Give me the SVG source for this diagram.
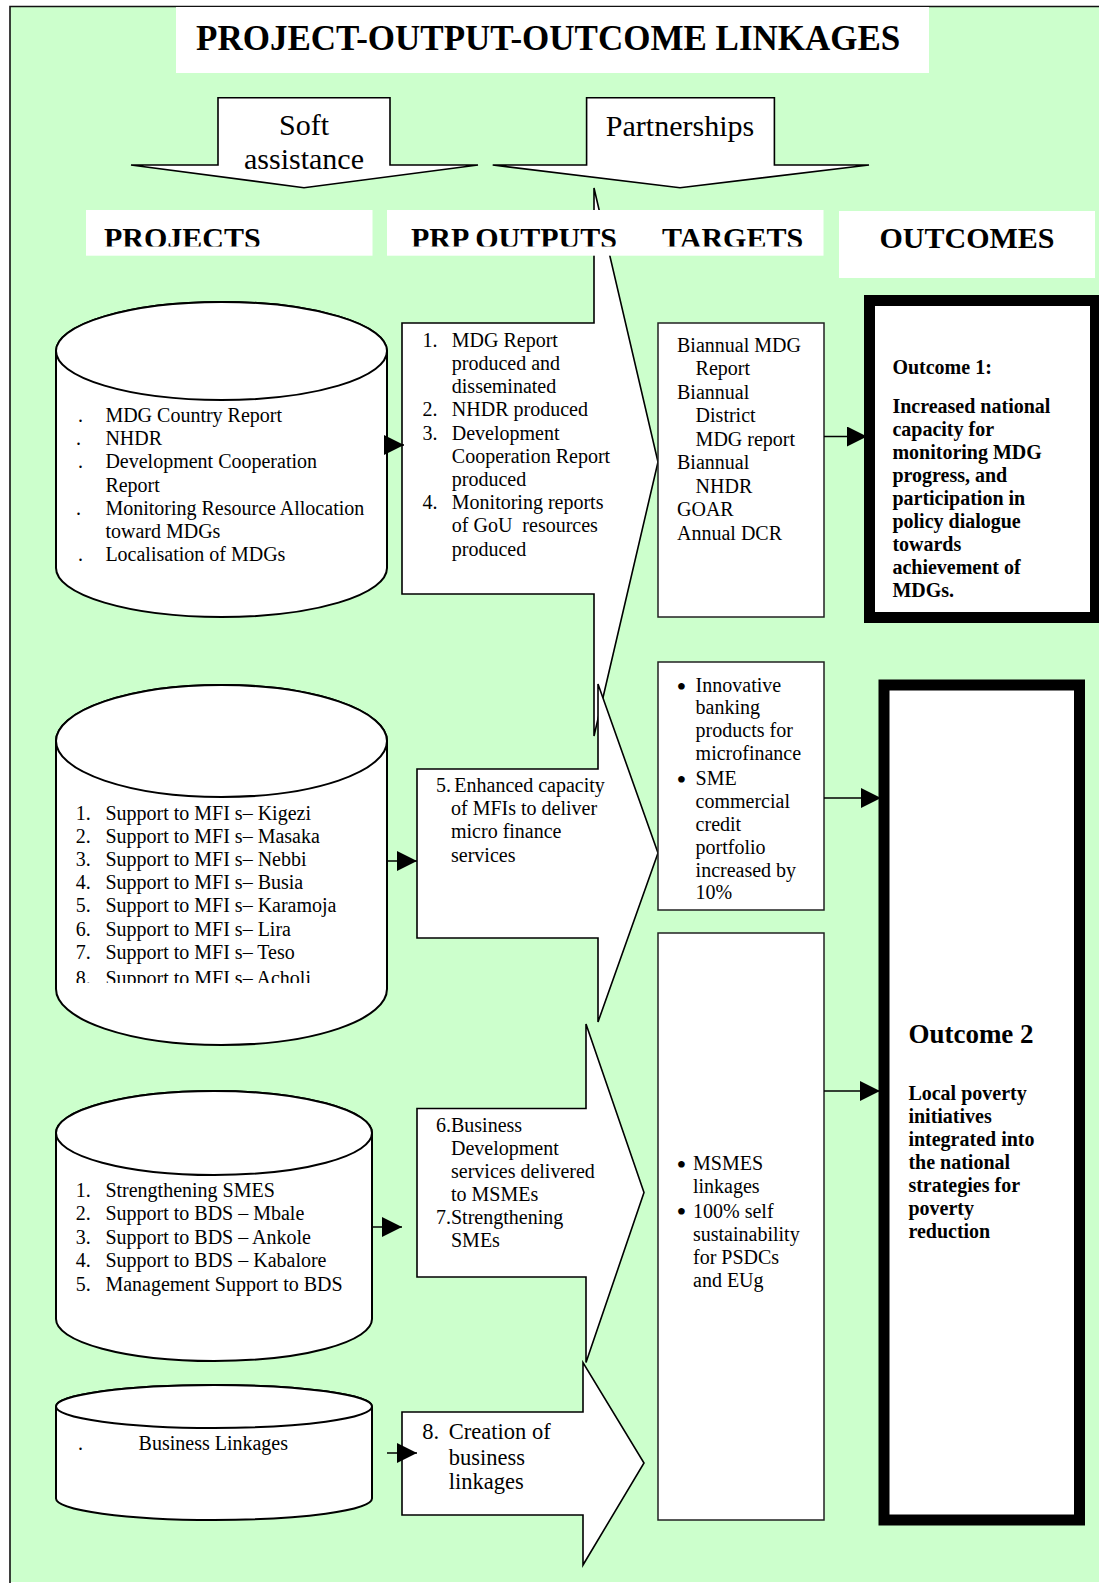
<svg xmlns="http://www.w3.org/2000/svg" width="1099" height="1583" viewBox="0 0 1099 1583">
<style>
.t{font-family:"Liberation Serif","Times New Roman",serif;font-size:20px;fill:#000}
.b{font-weight:bold}
.h{font-size:30px;font-weight:bold}
.bul{font-size:28px}
.box{fill:#fff;stroke:#000;stroke-width:1.5}
.tbox{fill:#fff;stroke:#222;stroke-width:1.5}
.cyl{fill:#fff;stroke:#000;stroke-width:2}
.out{fill:#fff;stroke:#000;stroke-width:1.6;stroke-linejoin:miter}
.hdr{fill:#fff}
.thick{fill:#fff;stroke:#000;stroke-width:11}
.conn{stroke:#000;stroke-width:1.5;fill:none;marker-end:url(#ah)}
</style>
<defs>
<marker id="ah" viewBox="0 0 20 20" refX="20" refY="10" markerWidth="20" markerHeight="20" markerUnits="userSpaceOnUse" orient="auto"><path d="M0,0 L20,10 L0,20 Z" fill="#000"/></marker>
<clipPath id="hclip"><rect x="80" y="200" width="760" height="46.5"/></clipPath>
<clipPath id="c2clip"><rect x="50" y="680" width="345" height="303"/></clipPath>
</defs>
<rect x="0" y="0" width="1099" height="1583" fill="#fff"/>
<rect x="10" y="7" width="1089" height="1575" fill="#CCFFCC"/>
<path d="M10,1583 V6.5 H1099" fill="none" stroke="#111" stroke-width="1.6"/>

<g id="title">
<rect class="hdr" x="176" y="7" width="753" height="66"/>
<text class="t b" x="196" y="50" style="font-size:35px">PROJECT-OUTPUT-OUTCOME LINKAGES</text>
</g>

<g id="soft-assistance">
<polygon class="out" points="218,97.7 390,97.7 390,165 478,165 304,187.7 131,165 218,165"/>
<text class="t" x="304" y="135" text-anchor="middle" style="font-size:30px">Soft</text>
<text class="t" x="304" y="169" text-anchor="middle" style="font-size:30px">assistance</text>
</g>

<g id="partnerships">
<polygon class="out" points="586.6,97.7 774.4,97.7 774.4,165 869,165 680,187.7 492.7,165 586.6,165"/>
<text class="t" x="680" y="136" text-anchor="middle" style="font-size:30px">Partnerships</text>
</g>

<g id="output1">
<polygon class="out" points="402,323 594,323 594,188 658,462 594,736 594,594 402,594"/>
<text class="t" x="422.5" y="346.7">1.</text><text class="t" x="451.8" y="346.7">MDG Report</text>
<text class="t" x="451.8" y="369.9">produced and</text>
<text class="t" x="451.8" y="393.1">disseminated</text>
<text class="t" x="422.5" y="416.3">2.</text><text class="t" x="451.8" y="416.3">NHDR produced</text>
<text class="t" x="422.5" y="439.5">3.</text><text class="t" x="451.8" y="439.5">Development</text>
<text class="t" x="451.8" y="462.7">Cooperation Report</text>
<text class="t" x="451.8" y="485.9">produced</text>
<text class="t" x="422.5" y="509.1">4.</text><text class="t" x="451.8" y="509.1" xml:space="preserve">Monitoring reports</text>
<text class="t" x="451.8" y="532.3" xml:space="preserve">of GoU  resources</text>
<text class="t" x="451.8" y="555.5">produced</text>
</g>

<g id="output5">
<polygon class="out" points="417,769 598,769 598,684 658,853 598,1022 598,938 417,938"/>
<text class="t" x="436" y="791.7">5.</text><text class="t" x="454.3" y="791.7">Enhanced capacity</text>
<text class="t" x="451" y="815">of MFIs to deliver</text>
<text class="t" x="451" y="838.2">micro finance</text>
<text class="t" x="451" y="861.5">services</text>
</g>

<g id="output6-7">
<polygon class="out" points="417,1108.5 586,1108.5 586,1024 644,1192.6 586,1362.5 586,1277 417,1277"/>
<text class="t" x="436" y="1132">6.Business</text>
<text class="t" x="451" y="1154.6">Development</text>
<text class="t" x="451" y="1177.7">services delivered</text>
<text class="t" x="451" y="1200.8">to MSMEs</text>
<text class="t" x="436" y="1223.8">7.Strengthening</text>
<text class="t" x="451" y="1247">SMEs</text>
</g>

<g id="output8">
<polygon class="out" points="402,1412 583,1412 583,1362.5 644,1463 583,1565 583,1515 402,1515"/>
<text class="t" x="422.2" y="1438.7" style="font-size:22.5px">8.</text>
<text class="t" x="448.8" y="1438.7" style="font-size:22.5px">Creation of</text>
<text class="t" x="448.8" y="1464.7" style="font-size:22.5px">business</text>
<text class="t" x="448.8" y="1488.8" style="font-size:22.5px">linkages</text>
</g>

<g id="header-projects">
<rect class="hdr" x="86" y="210" width="286.5" height="45.7"/>
<text class="t h" x="104" y="248" clip-path="url(#hclip)">PROJECTS</text>
</g>
<g id="header-outputs-targets">
<rect class="hdr" x="387" y="210" width="436.5" height="45.7"/>
<text class="t h" x="411" y="248" clip-path="url(#hclip)">PRP OUTPUTS</text>
<text class="t h" x="662" y="248" clip-path="url(#hclip)">TARGETS</text>
</g>
<g id="header-outcomes">
<rect class="hdr" x="839" y="211" width="256" height="67"/>
<text class="t h" x="879.5" y="248">OUTCOMES</text>
</g>

<g id="project1">
<path class="cyl" d="M56,351 V568 A165.5,49 0 0 0 387,568 V351 A165.5,49 0 0 0 56,351 Z"/>
<ellipse class="cyl" cx="221.5" cy="351" rx="165.5" ry="49"/>
<text class="t" x="78" y="421.7">.</text><text class="t" x="105.4" y="421.7">MDG Country Report</text>
<text class="t" x="76" y="445">.</text><text class="t" x="105.4" y="445">NHDR</text>
<text class="t" x="78" y="468.3">.</text><text class="t" x="105.4" y="468.3">Development Cooperation</text>
<text class="t" x="105.4" y="491.5">Report</text>
<text class="t" x="76" y="514.8">.</text><text class="t" x="105.4" y="514.8">Monitoring Resource Allocation</text>
<text class="t" x="105.4" y="538">toward MDGs</text>
<text class="t" x="78" y="561.2">.</text><text class="t" x="105.4" y="561.2">Localisation of MDGs</text>
</g>

<g id="project2">
<path class="cyl" d="M56,741 V989 A165.5,56 0 0 0 387,989 V741 A165.5,56 0 0 0 56,741 Z"/>
<ellipse class="cyl" cx="221.5" cy="741" rx="165.5" ry="56"/>
<g clip-path="url(#c2clip)">
<text class="t" x="75.7" y="820">1.</text><text class="t" x="105.4" y="820">Support to MFI s– Kigezi</text>
<text class="t" x="75.7" y="843.1">2.</text><text class="t" x="105.4" y="843.1">Support to MFI s– Masaka</text>
<text class="t" x="75.7" y="866.2">3.</text><text class="t" x="105.4" y="866.2">Support to MFI s– Nebbi</text>
<text class="t" x="75.7" y="889.3">4.</text><text class="t" x="105.4" y="889.3">Support to MFI s– Busia</text>
<text class="t" x="75.7" y="912.4">5.</text><text class="t" x="105.4" y="912.4">Support to MFI s– Karamoja</text>
<text class="t" x="75.7" y="935.5">6.</text><text class="t" x="105.4" y="935.5">Support to MFI s– Lira</text>
<text class="t" x="75.7" y="958.6">7.</text><text class="t" x="105.4" y="958.6">Support to MFI s– Teso</text>
<text class="t" x="75.7" y="984.5">8.</text><text class="t" x="105.4" y="984.5">Support to MFI s– Acholi</text>
</g>
</g>

<g id="project3">
<path class="cyl" d="M56,1133 V1319 A158,42 0 0 0 372,1319 V1133 A158,42 0 0 0 56,1133 Z"/>
<ellipse class="cyl" cx="214" cy="1133" rx="158" ry="42"/>
<text class="t" x="75.7" y="1197">1.</text><text class="t" x="105.4" y="1197">Strengthening SMES</text>
<text class="t" x="75.7" y="1220.4">2.</text><text class="t" x="105.4" y="1220.4">Support to BDS – Mbale</text>
<text class="t" x="75.7" y="1243.8">3.</text><text class="t" x="105.4" y="1243.8">Support to BDS – Ankole</text>
<text class="t" x="75.7" y="1267.2">4.</text><text class="t" x="105.4" y="1267.2">Support to BDS – Kabalore</text>
<text class="t" x="75.7" y="1290.6">5.</text><text class="t" x="105.4" y="1290.6">Management Support to BDS</text>
</g>

<g id="project4">
<path class="cyl" d="M56,1406.5 V1498.5 A158,21.5 0 0 0 372,1498.5 V1406.5 A158,21.5 0 0 0 56,1406.5 Z"/>
<ellipse class="cyl" cx="214" cy="1406.5" rx="158" ry="21.5"/>
<text class="t" x="78" y="1449.8">.</text><text class="t" x="138.6" y="1449.8">Business Linkages</text>
</g>

<g id="target1">
<rect class="tbox" x="658" y="323" width="166" height="294"/>
<text class="t" x="677" y="351.7">Biannual MDG</text>
<text class="t" x="695.6" y="375.2">Report</text>
<text class="t" x="677" y="398.7">Biannual</text>
<text class="t" x="695.6" y="422.2">District</text>
<text class="t" x="695.6" y="445.7">MDG report</text>
<text class="t" x="677" y="469.2">Biannual</text>
<text class="t" x="695.6" y="492.7">NHDR</text>
<text class="t" x="677" y="516.2">GOAR</text>
<text class="t" x="677" y="540">Annual DCR</text>
</g>

<g id="target2">
<rect class="tbox" x="658" y="662" width="166" height="248"/>
<text class="t bul" x="676.5" y="695.5">•</text><text class="t" x="695.6" y="691.7">Innovative</text>
<text class="t" x="695.6" y="714.3">banking</text>
<text class="t" x="695.6" y="737">products for</text>
<text class="t" x="695.6" y="760">microfinance</text>
<text class="t bul" x="676.5" y="788.8">•</text><text class="t" x="695.6" y="785">SME</text>
<text class="t" x="695.6" y="808.3">commercial</text>
<text class="t" x="695.6" y="830.8">credit</text>
<text class="t" x="695.6" y="853.5">portfolio</text>
<text class="t" x="695.6" y="876.6">increased by</text>
<text class="t" x="695.6" y="899.2">10%</text>
</g>

<g id="target3">
<rect class="tbox" x="658" y="933" width="166" height="587"/>
<text class="t bul" x="676.5" y="1173.8">•</text><text class="t" x="693" y="1170">MSMES</text>
<text class="t" x="693" y="1193.3">linkages</text>
<text class="t bul" x="676.5" y="1221.3">•</text><text class="t" x="693" y="1217.5">100% self</text>
<text class="t" x="693" y="1241">sustainability</text>
<text class="t" x="693" y="1264.2">for PSDCs</text>
<text class="t" x="693" y="1287.4">and EUg</text>
</g>

<g id="outcome1">
<rect class="thick" x="869.5" y="300.5" width="226" height="317"/>
<text class="t b" x="892.4" y="374.3">Outcome 1:</text>
<text class="t b" x="892.4" y="412.7">Increased national</text>
<text class="t b" x="892.4" y="435.7">capacity for</text>
<text class="t b" x="892.4" y="458.7">monitoring MDG</text>
<text class="t b" x="892.4" y="481.7">progress, and</text>
<text class="t b" x="892.4" y="504.7">participation in</text>
<text class="t b" x="892.4" y="527.7">policy dialogue</text>
<text class="t b" x="892.4" y="550.7">towards</text>
<text class="t b" x="892.4" y="573.7">achievement of</text>
<text class="t b" x="892.4" y="596.7">MDGs.</text>
</g>

<g id="outcome2">
<rect class="thick" x="884" y="685" width="195.5" height="835"/>
<text class="t b" x="908.4" y="1042.8" style="font-size:27px">Outcome 2</text>
<text class="t b" x="908.4" y="1099.6">Local poverty</text>
<text class="t b" x="908.4" y="1122.7">initiatives</text>
<text class="t b" x="908.4" y="1145.7">integrated into</text>
<text class="t b" x="908.4" y="1168.6">the national</text>
<text class="t b" x="908.4" y="1191.6">strategies for</text>
<text class="t b" x="908.4" y="1214.7">poverty</text>
<text class="t b" x="908.4" y="1237.7">reduction</text>
</g>

<g id="connectors">
<path class="conn" d="M386,445 H404"/>
<path class="conn" d="M387,861 H417"/>
<path class="conn" d="M372,1227 H402"/>
<path class="conn" d="M387,1453 H417"/>
<path class="conn" d="M824,436.5 H867"/>
<path class="conn" d="M824,798 H881"/>
<path class="conn" d="M824,1091 H880"/>
</g>
</svg>
